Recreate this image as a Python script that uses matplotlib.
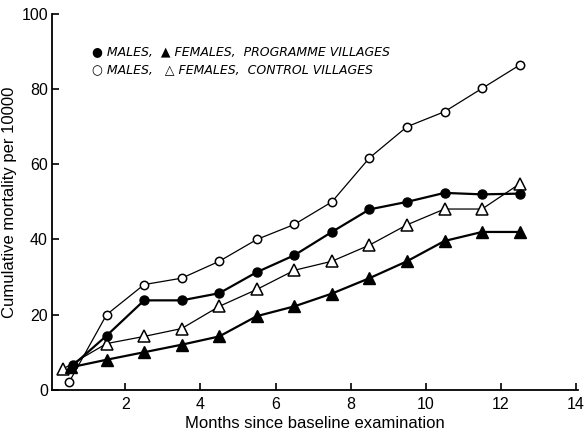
import matplotlib
matplotlib.use("Agg")
import matplotlib.pyplot as plt

# months since baseline examination
x_males_prog = [0.6, 1.5, 2.5, 3.5, 4.5, 5.5, 6.5, 7.5, 8.5, 9.5, 10.5, 11.5, 12.5]
males_prog = [6.5, 14.4, 23.8, 23.8, 25.7, 31.3, 35.8, 42, 48, 50, 52.4, 52, 52.2]

x_females_prog = [0.55, 1.5, 2.5, 3.5, 4.5, 5.5, 6.5, 7.5, 8.5, 9.5, 10.5, 11.5, 12.5]
females_prog = [6, 8, 10, 12, 14.2, 19.6, 22.2, 25.6, 29.7, 34.2, 39.6, 42, 42]

x_males_ctrl = [0.5, 1.5, 2.5, 3.5, 4.5, 5.5, 6.5, 7.5, 8.5, 9.5, 10.5, 11.5, 12.5]
males_ctrl = [2, 20, 28, 29.7, 34.2, 40, 44, 50, 61.7, 70, 74, 80.2, 86.4]

x_females_ctrl = [0.35, 1.5, 2.5, 3.5, 4.5, 5.5, 6.5, 7.5, 8.5, 9.5, 10.5, 11.5, 12.5]
females_ctrl = [5.6, 12.3, 14.2, 16.3, 22.2, 26.7, 31.8, 34.2, 38.5, 43.9, 48.1, 48.1, 54.8]

xticks = [2, 4, 6, 8, 10, 12, 14]
yticks = [0, 20, 40, 60, 80, 100]

plt.rcParams['font.family'] = ['Liberation Sans', 'DejaVu Sans']

fig = plt.figure(figsize=(5.86, 4.37), dpi=100)
ax = fig.add_axes([0.089, 0.108, 0.897, 0.86])

ax.plot(x_males_ctrl, males_ctrl, color='black', lw=0.9, marker='o', ms=6,
        mfc='white', mec='black', mew=1.1, zorder=3)
ax.plot(x_females_ctrl, females_ctrl, color='black', lw=0.9, marker='^', ms=8,
        mfc='white', mec='black', mew=1.1, zorder=3)
ax.plot(x_males_prog, males_prog, color='black', lw=1.6, marker='o', ms=6.5,
        mfc='black', mec='black', zorder=4)
ax.plot(x_females_prog, females_prog, color='black', lw=1.6, marker='^', ms=8,
        mfc='black', mec='black', zorder=4)

ax.set_xlim(0.05, 14.05)
ax.set_ylim(0, 100)
ax.set_xticks(xticks)
ax.set_yticks(yticks)
ax.tick_params(direction='in', length=5, width=1.2, labelsize=11.5, pad=3)
ax.tick_params(axis='x', pad=5)
for s in ['top', 'right']:
    ax.spines[s].set_visible(False)
for s in ['left', 'bottom']:
    ax.spines[s].set_linewidth(1.3)

ax.set_xlabel('Months since baseline examination', fontsize=12, labelpad=3)
ax.set_ylabel('Cumulative mortality per 10000', fontsize=12, labelpad=3)

ax.text(0.075, 0.899, '\u25cf MALES,  \u25b2 FEMALES,  PROGRAMME VILLAGES',
        transform=ax.transAxes, fontsize=9, style='italic', va='center',
        family=['DejaVu Sans'])
ax.text(0.075, 0.851, '\u25cb MALES,   \u25b3 FEMALES,  CONTROL VILLAGES',
        transform=ax.transAxes, fontsize=9, style='italic', va='center',
        family=['DejaVu Sans'])

fig.savefig('out.png', dpi=100)
